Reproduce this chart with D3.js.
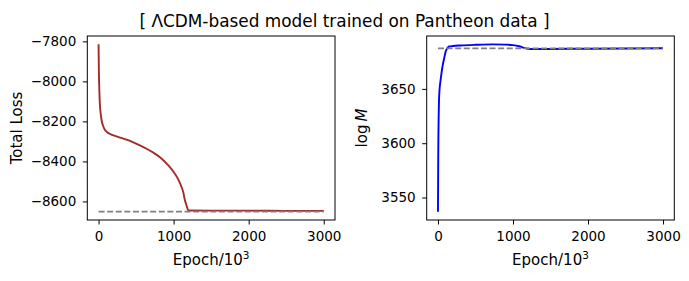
<!DOCTYPE html>
<html>
<head>
<meta charset="utf-8">
<script src="https://cdn.jsdelivr.net/npm/d3@7"></script>
<style>
  body { margin: 0; background: #fff; }
  text { font-family: "DejaVu Sans", sans-serif; fill: #000; }
</style>
</head>
<body>
<svg id="fig" width="689" height="281"></svg>
<script>
// total loss curve (epoch in units of 10^3)
const lossEpochs = [0, 4, 10, 17, 28, 40, 60, 84, 115, 150, 250, 394, 500, 616, 730, 837, 930, 1014, 1065, 1104, 1130, 1148, 1172, 1192, 1200, 1500, 2000, 2500, 3000]
const lossValues = [-7815, -7944, -8040, -8110, -8160, -8193, -8222, -8242, -8254, -8262, -8276, -8294, -8311, -8332, -8356, -8385, -8420, -8460, -8492, -8526, -8556, -8590, -8620, -8643, -8645, -8646, -8646, -8647, -8647]
const lossRef = -8651

// log M curve
const mEpochs = [0, 2, 4, 6, 9, 13, 20, 35, 50, 67, 85, 101, 125, 147, 200, 300, 500, 725, 900, 1000, 1080, 1150, 1200, 1250, 1500, 2000, 2500, 3000]
const mValues = [3537, 3560, 3590, 3606, 3622, 3637, 3648, 3658, 3666, 3673, 3679, 3684, 3687.5, 3689, 3689.5, 3690, 3690.6, 3691, 3690.8, 3690.3, 3689.3, 3687.8, 3686.9, 3686.7, 3686.8, 3687, 3687.2, 3687.4]
const mRef = 3687.3

const xTicks = [0, 1000, 2000, 3000]
const lossTicks = [-8600, -8400, -8200, -8000, -7800]
const mTicks = [3550, 3600, 3650]

const svg = d3.select('#fig')

const style = {
    top: 36, bottom: 220,
    tick: 4.5,
    tickFont: '13.5px',
    labelFont: '15px',
    lw: 1.9,
}

svg.append('text')
    .attr('x', 344.5).attr('y', 26.5)
    .attr('text-anchor', 'middle')
    .style('font-size', '16.9px')
    .text('[ ΛCDM-based model trained on Pantheon data ]')

function padDomain(vals) {
    const lo = d3.min(vals), hi = d3.max(vals)
    const m = (hi - lo) * 0.05
    return [lo - m, hi + m]
}

function drawPanel(opt) {
    const g = svg.append('g')
    const x = d3.scaleLinear().domain(padDomain([0, 3000])).range([opt.left, opt.right])
    const y = d3.scaleLinear().domain(padDomain(opt.values.concat([opt.ref]))).range([style.bottom, style.top])

    const pts = opt.epochs.map((e, i) => [e, opt.values[i]])
    const line = d3.line().x(d => x(d[0])).y(d => y(d[1])).curve(d3.curveMonotoneX)

    g.append('path')
        .attr('d', line(pts))
        .attr('fill', 'none')
        .attr('stroke', opt.color)
        .attr('stroke-width', style.lw)

    g.append('path')
        .attr('d', line([[0, opt.ref], [3000, opt.ref]]))
        .attr('fill', 'none')
        .attr('stroke', '#808080')
        .attr('stroke-width', style.lw)
        .attr('stroke-dasharray', '6,2.6')

    const xAx = g.append('g')
        .attr('transform', `translate(0,${style.bottom})`)
        .call(d3.axisBottom(x).tickValues(xTicks).tickFormat(d3.format('d'))
            .tickSize(style.tick).tickPadding(7.4).tickSizeOuter(0))
    const yAx = g.append('g')
        .attr('transform', `translate(${opt.left},0)`)
        .call(d3.axisLeft(y).tickValues(opt.ticks).tickFormat(d3.format('d'))
            .tickSize(style.tick).tickPadding(6.5).tickSizeOuter(0))
    for (const ax of [xAx, yAx]) {
        ax.select('.domain').remove()
        ax.selectAll('line').attr('stroke-width', 1)
        ax.selectAll('text').style('font-size', style.tickFont).attr('font-family', null)
    }

    g.append('rect')
        .attr('x', opt.left).attr('y', style.top)
        .attr('width', opt.right - opt.left).attr('height', style.bottom - style.top)
        .attr('fill', 'none').attr('stroke', '#000').attr('stroke-width', 1)

    const xl = g.append('text')
        .attr('x', (opt.left + opt.right) / 2).attr('y', 265)
        .attr('text-anchor', 'middle')
        .style('font-size', style.labelFont)
    xl.append('tspan').text('Epoch/10')
    xl.append('tspan').attr('dy', -6).style('font-size', '10.5px').text('3')

    const yl = g.append('text')
        .attr('transform', `translate(${opt.ylabelX},${(style.top + style.bottom) / 2}) rotate(-90)`)
        .attr('text-anchor', 'middle')
        .style('font-size', style.labelFont)
    opt.ylabel(yl)
}

drawPanel({
    left: 87.3, right: 335,
    epochs: lossEpochs, values: lossValues, ref: lossRef,
    color: '#a52a2a', ticks: lossTicks, ylabelX: 22,
    ylabel: t => t.text('Total Loss'),
})

drawPanel({
    left: 426.7, right: 674.3,
    epochs: mEpochs, values: mValues, ref: mRef,
    color: '#0000ff', ticks: mTicks, ylabelX: 367,
    ylabel: t => {
        t.append('tspan').text('log\u2009')
        t.append('tspan').style('font-style', 'italic').text('M')
    },
})
</script>
</body>
</html>
